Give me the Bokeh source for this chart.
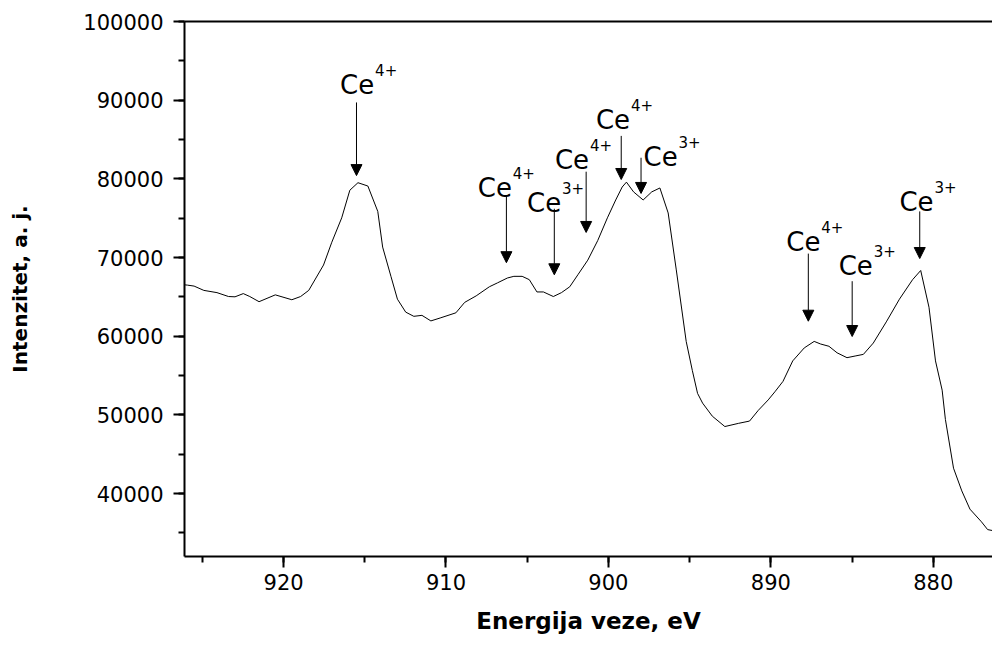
from bokeh.plotting import figure
from bokeh.models import (Range1d, SingleIntervalTicker, BasicTickFormatter, LinearAxis,
                          Arrow, NormalHead, ColumnDataSource, FixedTicker)
from bokeh.core.properties import value
from bokeh.embed import file_html
from bokeh.resources import INLINE

# Binding energy (eV) and intensity (a. j.)
energy = [926.10, 925.92, 925.51, 924.91, 924.10, 923.39, 922.99, 922.48, 922.08, 921.51,
          920.51, 919.49, 918.95, 918.45, 917.54, 917.03, 916.42, 915.92, 915.42, 914.81,
          914.20, 913.90, 913.39, 912.99, 912.48, 911.98, 911.48, 910.93, 910.36, 909.39,
          908.85, 908.14, 907.33, 906.83, 906.22, 905.82, 905.31, 904.87, 904.40, 904.00,
          903.39, 902.89, 902.38, 901.88, 901.27, 900.66, 900.06, 899.55, 899.15, 898.89,
          898.45, 897.86, 897.33, 896.83, 896.32, 895.82, 895.21, 894.83, 894.51, 894.20,
          893.60, 892.83, 891.98, 891.31, 890.77, 890.16, 889.75, 889.25, 888.65, 887.94,
          887.33, 886.93, 886.42, 885.92, 885.31, 884.81, 884.30, 883.69, 882.89, 882.08,
          881.27, 880.77, 880.26, 879.86, 879.45, 879.25, 878.75, 878.24, 877.74, 877.03,
          876.65, 876.34]
intensity = [66531, 66494, 66370, 65824, 65539, 65043, 65006, 65415, 65043, 64386,
             65254, 64634, 65043, 65824, 69047, 71947, 75046, 78555, 79509, 79088,
             75865, 71328, 67609, 64709, 63060, 62527, 62651, 61944, 62316, 62973,
             64299, 65130, 66283, 66778, 67398, 67609, 67609, 67187, 65626, 65626,
             65043, 65539, 66283, 67807, 69667, 72146, 75046, 77315, 78964, 79584,
             78344, 77315, 78344, 78840, 75666, 68427, 59341, 55622, 52734, 51494,
             49833, 48519, 48928, 49213, 50577, 51904, 52932, 54259, 56862, 58511,
             59341, 59006, 58721, 57890, 57271, 57481, 57692, 59130, 61820, 64709,
             67187, 68353, 63679, 56862, 53143, 49424, 43226, 40337, 38020, 36408,
             35418, 35294]

# Peak annotations
peak_base = ["Ce"] * 9
peak_charge = ["4+", "4+", "3+", "4+", "4+", "3+", "4+", "3+", "3+"]
arrow_energy = [915.51, 906.28, 903.33, 901.37, 899.21, 897.99, 887.69, 884.99, 880.83]
arrow_tail = [89711, 77725, 76200, 80910, 85459, 82683, 70497, 66990, 75865]
arrow_head = [80414, 69345, 67807, 73187, 79918, 78146, 61906, 59961, 69873]
label_energy = [916.52, 908.04, 905.01, 903.29, 900.77, 897.84, 889.05, 885.82, 882.08]
label_intensity = [91905, 78840, 76906, 82397, 87443, 82807, 71947, 68931, 77104]

x_ticks_interval = 10
y_ticks_interval = 10000

p = figure(width=992, height=637, output_backend="svg", toolbar_location=None,
           x_range=Range1d(926.1, 876.35), y_range=Range1d(32000, 100000),
           x_axis_label="Energija veze, eV", y_axis_label="Intenzitet, a. j.",
           min_border_left=184, min_border_right=0, min_border_top=21, min_border_bottom=81)
p.grid.visible = False
p.outline_line_color = None
p.background_fill_color = "white"
p.border_fill_color = "white"

p.line(energy, intensity, line_color="black", line_width=1)

asrc = ColumnDataSource(dict(x=arrow_energy, y0=arrow_tail, y1=arrow_head))
p.add_layout(Arrow(end=NormalHead(size=11, fill_color="black", line_color="black", line_width=1),
                   x_start="x", y_start="y0", x_end="x", y_end="y1", source=asrc,
                   line_color="black", line_width=1))

lsrc = ColumnDataSource(dict(x=label_energy, y=label_intensity, base=peak_base, sup=peak_charge))
p.text(x="x", y="y", text="base", source=lsrc, text_font=value("DejaVu Sans"),
       text_font_size="26px", text_align="left", text_baseline="alphabetic", text_color="black")
p.text(x="x", y="y", text="sup", source=lsrc, text_font=value("DejaVu Sans"),
       text_font_size="15px", text_align="left", text_baseline="alphabetic", text_color="black",
       x_offset=35, y_offset=-15)

p.xaxis.ticker = SingleIntervalTicker(interval=x_ticks_interval, num_minor_ticks=2)
p.yaxis.ticker = SingleIntervalTicker(interval=y_ticks_interval, num_minor_ticks=2)
p.yaxis.formatter = BasicTickFormatter(use_scientific=False)

for ax in (p.xaxis[0], p.yaxis[0]):
    ax.axis_line_width = 2
    ax.axis_line_color = "black"
    ax.major_tick_line_width = 2
    ax.minor_tick_line_width = 2
    ax.major_tick_line_color = "black"
    ax.minor_tick_line_color = "black"
    ax.major_tick_in = 0
    ax.major_tick_out = 11
    ax.minor_tick_in = 0
    ax.minor_tick_out = 6
    ax.major_label_text_font = "DejaVu Sans"
    ax.major_label_text_font_size = "21px"
    ax.major_label_text_color = "black"
    ax.axis_label_text_font = "DejaVu Sans"
    ax.axis_label_text_font_style = "bold"
    ax.axis_label_text_color = "black"

p.xaxis.major_label_standoff = 6
p.xaxis.axis_label_text_font_size = "23px"
p.xaxis.axis_label_standoff = 15
p.yaxis.major_label_standoff = 10
p.yaxis.axis_label_text_font_size = "20px"
p.yaxis.axis_label_standoff = 48

top = LinearAxis(ticker=FixedTicker(ticks=[]), major_tick_line_color=None,
                 minor_tick_line_color=None, axis_line_width=2, axis_line_color="black")
p.add_layout(top, "above")

open("out.html", "w").write(file_html(p, INLINE))
